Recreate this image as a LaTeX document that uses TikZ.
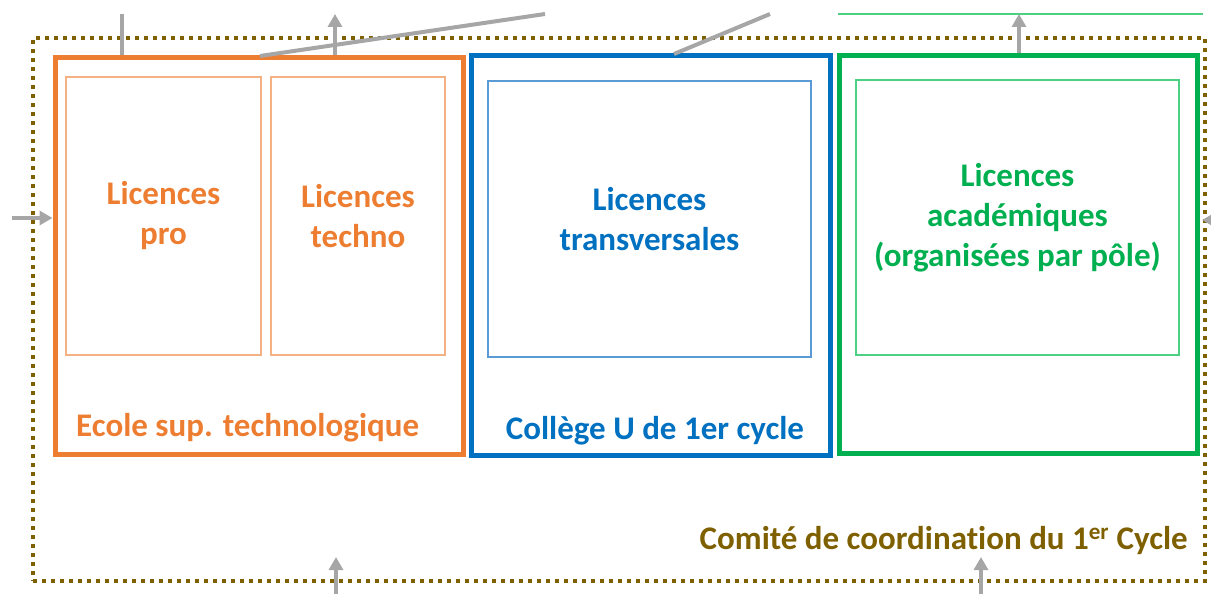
\documentclass[tikz,border=0pt]{standalone}
\usepackage{fontspec}
\setmainfont[Ligatures=NoCommon]{Carlito}
\usetikzlibrary{arrows.meta}
\definecolor{orangeM}{HTML}{ED7D31}
\definecolor{orangeL}{HTML}{F4B183}
\definecolor{blueM}{HTML}{0070C0}
\definecolor{blueL}{HTML}{5B9BD5}
\definecolor{greenM}{HTML}{00B050}
\definecolor{greenL}{HTML}{4CD182}
\definecolor{olive}{HTML}{7F6000}
\definecolor{link}{HTML}{A6A6A6}
\begin{document}
\begin{tikzpicture}[x=1pt,y=-1pt,
  outerbox/.style={draw,line width=5pt,minimum width=#1},
  innerbox/.style={draw,line width=1.2pt,align=center,font=\fontsize{33}{40}\bfseries\selectfont},
  tag/.style={font=\fontsize{33}{40}\bfseries\selectfont,inner sep=0pt},
  feed/.style={draw=link,line width=4pt},
  feedarrow/.style={feed,-{Triangle[length=13pt,width=14pt]}}]
\useasboundingbox (0,0) rectangle (1211,594);

% dotted committee frame
\node[draw=olive,line width=4pt,dash pattern=on 4pt off 5pt,minimum width=1172pt,minimum height=543pt,inner sep=0pt] (frame) at (619,309.5) {};
\node[tag,text=olive,anchor=base east] (comite) at (1188,549) {Comité de coordination du 1\textsuperscript{er} Cycle};

% Ecole sup. technologique
\node[outerbox=408pt,draw=orangeM,minimum height=396pt,inner sep=0pt] (est) at (259,256) {};
\node[innerbox,draw=orangeL,text=orangeM,minimum width=195pt,minimum height=278pt,inner sep=0pt] (pro) at (163.5,216) {Licences\\pro};
\node[innerbox,draw=orangeL,text=orangeM,minimum width=174pt,minimum height=278pt,inner sep=0pt] (techno) at (358,216) {Licences\\techno};
\node[tag,text=orangeM,anchor=west] (estlabel) at (76,428) {Ecole sup. technologique};

% College U
\node[outerbox=359pt,draw=blueM,minimum height=399pt,inner sep=0pt] (cu) at (650.5,255.5) {};
\node[innerbox,draw=blueL,text=blueM,minimum width=323pt,minimum height=276pt,inner sep=0pt] (transv) at (649.5,219) {Licences\\transversales};
\node[tag,text=blueM] (culabel) at (655,431) {Collège U de 1er cycle};

% academic licences
\node[outerbox=358pt,draw=greenM,minimum height=397pt,inner sep=0pt] (poles) at (1018,254.5) {};
\node[innerbox,draw=greenL,text=greenM,minimum width=323pt,minimum height=275pt,inner sep=0pt] (acad) at (1017.5,217.5) {Licences\\académiques\\(organisées par pôle)};

% links leaving the frame
\coordinate (t1) at (122,14);
\coordinate (t2) at (335,14);
\coordinate (t3) at (545,14);
\coordinate (t4) at (770,14);
\coordinate (t5) at (1019,14);
\coordinate (gl1) at (838,14);
\coordinate (gl2) at (1203,14);
\coordinate (l1) at (12,218);
\coordinate (r1) at (1220,220);
\coordinate (b1) at (336,594);
\coordinate (b2) at (981,594);

\draw[feed] (t1) -- (est.north -| t1);
\draw[feedarrow] (est.north -| t2) -- (t2);
\draw[feed] (260,56) -- (t3);
\draw[feed] (674,54) -- (t4);
\draw[greenL,line width=1.2pt] (gl1) -- (gl2);
\draw[feedarrow] (poles.north -| t5) -- (t5);
\draw[feedarrow] (l1) -- (est.west |- l1);
\draw[feedarrow] (r1) -- (1202,220);
\draw[feedarrow] (b1) -- (336,557);
\draw[feedarrow] (b2) -- (981,557);
\end{tikzpicture}
\end{document}
